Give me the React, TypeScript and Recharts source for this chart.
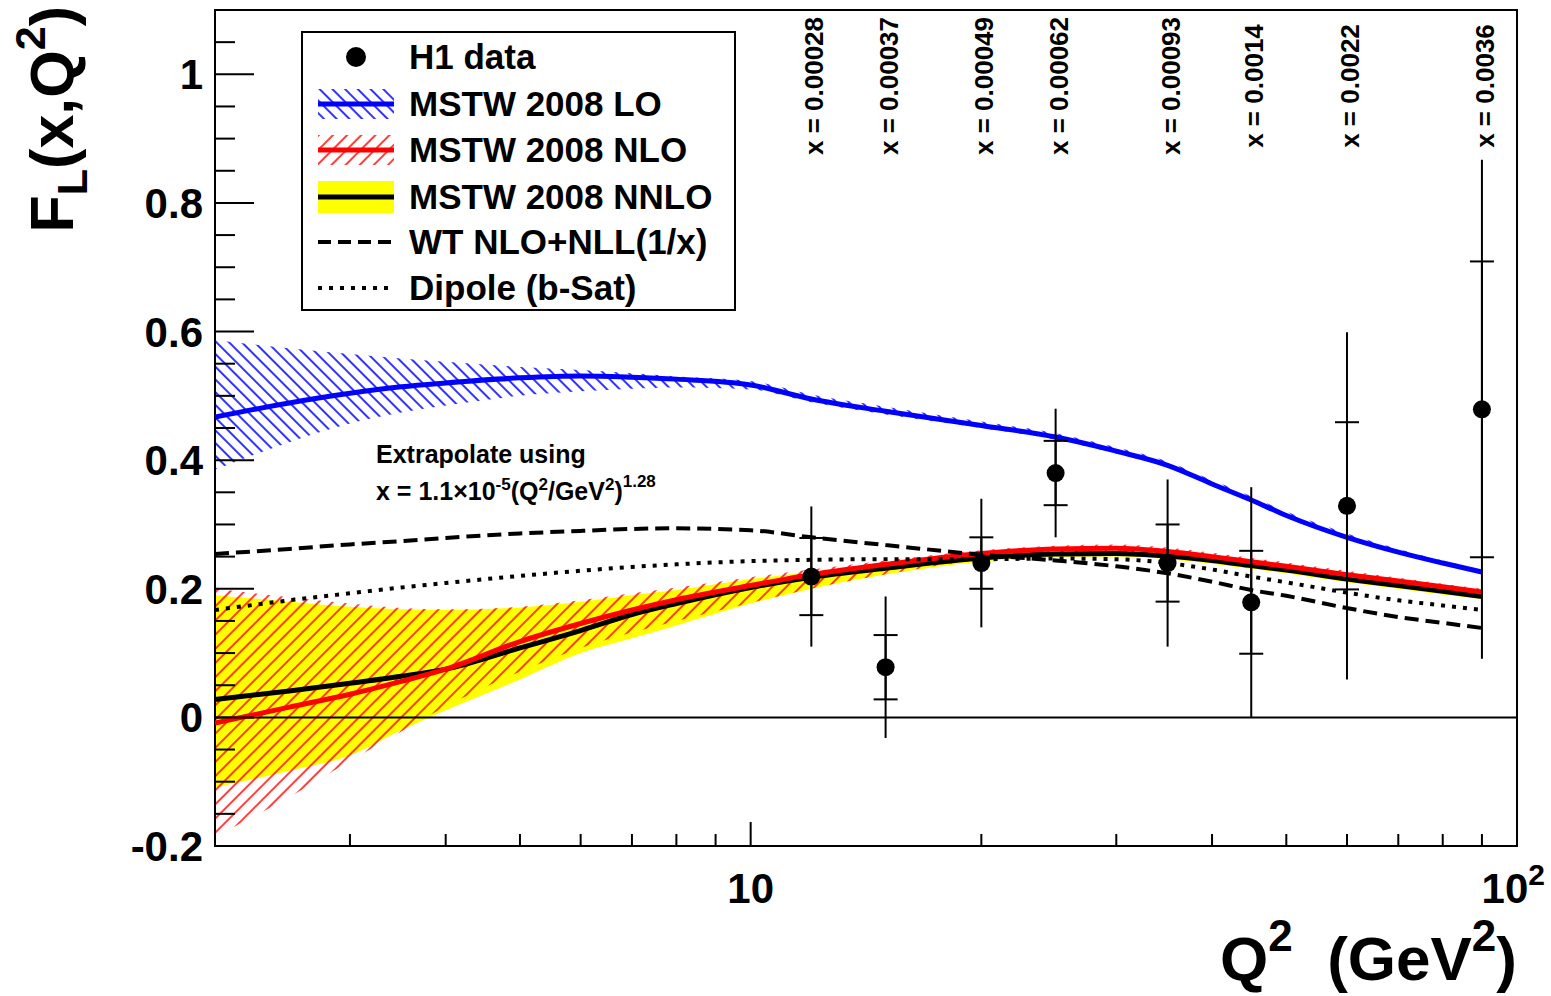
import React from "react";
import { ComposedChart, Area, Line, Scatter, ErrorBar, XAxis, YAxis, ReferenceLine, ReferenceArea } from "recharts";

const FONT = '"Liberation Sans", Arial, Helvetica, sans-serif';

// theory curves, sampled in Q^2 (GeV^2)
const q2 = [2, 2.5, 3, 3.5, 4, 5, 6, 7, 8, 10, 12, 15, 20, 25, 30, 35, 40, 45, 50, 60, 70, 80, 90];
const loCentral = [0.467, 0.489, 0.504, 0.514, 0.52, 0.528, 0.531, 0.529, 0.526, 0.517, 0.495, 0.476, 0.454, 0.436, 0.414, 0.392, 0.363, 0.338, 0.314, 0.28, 0.257, 0.24, 0.226];
const loHi = [0.587, 0.574, 0.565, 0.558, 0.553, 0.545, 0.54, 0.535, 0.53, 0.523, 0.502, 0.483, 0.46, 0.442, 0.42, 0.398, 0.369, 0.344, 0.32, 0.286, 0.262, 0.244, 0.229];
const loLo = [0.385, 0.428, 0.457, 0.474, 0.485, 0.5, 0.507, 0.511, 0.513, 0.51, 0.49, 0.471, 0.45, 0.432, 0.41, 0.389, 0.36, 0.335, 0.311, 0.277, 0.254, 0.238, 0.224];
const nloCentral = [-0.009, 0.016, 0.036, 0.056, 0.075, 0.118, 0.146, 0.167, 0.183, 0.205, 0.222, 0.238, 0.255, 0.262, 0.263, 0.258, 0.25, 0.242, 0.235, 0.222, 0.212, 0.203, 0.195];
const nloHi = [0.2, 0.187, 0.177, 0.17, 0.168, 0.172, 0.182, 0.193, 0.202, 0.218, 0.23, 0.244, 0.26, 0.267, 0.269, 0.264, 0.256, 0.248, 0.241, 0.228, 0.217, 0.208, 0.2];
const nloLo = [-0.185, -0.124, -0.068, -0.022, 0.017, 0.071, 0.108, 0.132, 0.15, 0.178, 0.2, 0.222, 0.245, 0.253, 0.256, 0.252, 0.244, 0.236, 0.229, 0.216, 0.206, 0.197, 0.19];
const nnloCentral = [0.028, 0.041, 0.053, 0.064, 0.075, 0.108, 0.135, 0.16, 0.177, 0.202, 0.218, 0.232, 0.248, 0.254, 0.255, 0.251, 0.244, 0.236, 0.229, 0.215, 0.205, 0.196, 0.188];
const nnloHi = [0.19, 0.18, 0.172, 0.168, 0.167, 0.171, 0.18, 0.19, 0.198, 0.215, 0.226, 0.238, 0.253, 0.258, 0.259, 0.255, 0.248, 0.24, 0.233, 0.219, 0.209, 0.2, 0.192];
const nnloLo = [-0.109, -0.083, -0.059, -0.02, 0.011, 0.059, 0.1, 0.123, 0.143, 0.177, 0.2, 0.222, 0.242, 0.249, 0.25, 0.246, 0.239, 0.231, 0.224, 0.21, 0.2, 0.191, 0.184];
const wtNll = [0.254, 0.262, 0.269, 0.274, 0.279, 0.286, 0.29, 0.293, 0.294, 0.291, 0.28, 0.268, 0.253, 0.244, 0.235, 0.224, 0.211, 0.198, 0.189, 0.17, 0.156, 0.147, 0.139];
const dipole = [0.167, 0.182, 0.193, 0.202, 0.209, 0.22, 0.228, 0.234, 0.238, 0.243, 0.245, 0.246, 0.246, 0.247, 0.246, 0.24, 0.23, 0.219, 0.21, 0.194, 0.182, 0.174, 0.167];

// H1 measurements
const h1Q2 = [12, 15, 20, 25, 35, 45, 60, 90];
const h1FL = [0.219, 0.078, 0.24, 0.38, 0.24, 0.179, 0.329, 0.479];
const h1Stat = [0.06, 0.05, 0.04, 0.05, 0.06, 0.08, 0.13, 0.23];
const h1Tot = [0.109, 0.11, 0.1, 0.1, 0.13, 0.179, 0.27, 0.388];
const h1X = ["0.00028", "0.00037", "0.00049", "0.00062", "0.00093", "0.0014", "0.0022", "0.0036"];

const xTicks = [3, 4, 5, 6, 7, 8, 9, 10, 20, 30, 40, 50, 60, 70, 80, 90, 100];
const yTicks = [-0.2, -0.15, -0.1, -0.05, 0, 0.05, 0.1, 0.15, 0.2, 0.25, 0.3, 0.35, 0.4, 0.45, 0.5, 0.55, 0.6, 0.65, 0.7, 0.75, 0.8, 0.85, 0.9, 0.95, 1, 1.05];

const curves = q2.map((q, i) => ({
  q2: q,
  lo: loCentral[i], loBand: [loLo[i], loHi[i]],
  nlo: nloCentral[i], nloBand: [nloLo[i], nloHi[i]],
  nnlo: nnloCentral[i], nnloBand: [nnloLo[i], nnloHi[i]],
  wt: wtNll[i], dip: dipole[i],
}));

const h1 = h1Q2.map((q, i) => ({ q2: q, fl: h1FL[i], stat: h1Stat[i], tot: h1Tot[i], xval: h1X[i] }));

const XTick = (props: any) => {
  const { x, y, payload } = props;
  const v = payload.value;
  const major = v === 10 || v === 100;
  return (
    <g>
      <line x1={x} x2={x} y1={y} y2={y - (major ? 24 : 12)} stroke="#000" strokeWidth={2} />
      {v === 10 && (
        <text x={x} y={y + 57} textAnchor="middle" fontSize={42} fontWeight="bold" fontFamily={FONT}>10</text>
      )}
      {v === 100 && (
        <text x={x + 28} y={y + 57} textAnchor="end" fontSize={42} fontWeight="bold" fontFamily={FONT}>
          10<tspan dy={-18} fontSize={30}>2</tspan>
        </text>
      )}
    </g>
  );
};

const YTick = (props: any) => {
  const { x, y, payload } = props;
  const v = payload.value;
  const major = Math.abs(v * 5 - Math.round(v * 5)) < 1e-6;
  const label = v === 0 ? "0" : v === 1 ? "1" : v.toFixed(1);
  return (
    <g>
      <line x1={x} x2={x + (major ? 39 : 20)} y1={y} y2={y} stroke="#000" strokeWidth={2} />
      {major && (
        <text x={x - 12} y={y + 15} textAnchor="end" fontSize={42} fontWeight="bold" fontFamily={FONT}>{label}</text>
      )}
    </g>
  );
};

const H1Point = (props: any) => {
  const { cx, cy, payload } = props;
  return (
    <g>
      <circle cx={cx} cy={cy} r={9} fill="#000" />
      <text
        transform={`translate(${cx + 3}, 86) rotate(-90)`}
        textAnchor="middle"
        dominantBaseline="central"
        fontSize={26}
        fontWeight="bold"
        fontFamily={FONT}
      >
        {`x = ${payload.xval}`}
      </text>
    </g>
  );
};

const Hatches = ({ suffix }: { suffix: string }) => (
  <defs>
    <pattern id={`blueHatch${suffix}`} patternUnits="userSpaceOnUse" width={9} height={9} patternTransform="rotate(-45)">
      <line x1={1} y1={0} x2={1} y2={9} stroke="#0000ff" strokeWidth={1.6} />
    </pattern>
    <pattern id={`redHatch${suffix}`} patternUnits="userSpaceOnUse" width={10} height={10} patternTransform="rotate(45)">
      <line x1={1} y1={0} x2={1} y2={10} stroke="#ff0000" strokeWidth={1.5} />
    </pattern>
  </defs>
);

const legendRows = [
  { label: "H1 data", kind: "dot" },
  { label: "MSTW 2008 LO", kind: "lo" },
  { label: "MSTW 2008 NLO", kind: "nlo" },
  { label: "MSTW 2008 NNLO", kind: "nnlo" },
  { label: "WT NLO+NLL(1/x)", kind: "wt" },
  { label: "Dipole (b-Sat)", kind: "dip" },
];
const legendY = [57, 104, 150, 197, 242, 288];

const LegendSymbol = ({ kind, cy }: { kind: string; cy: number }) => {
  const x1 = 318, x2 = 394;
  if (kind === "dot") return <circle cx={356} cy={cy} r={10} fill="#000" />;
  if (kind === "lo")
    return (
      <g>
        <rect x={x1} y={cy - 15} width={x2 - x1} height={30} fill="url(#blueHatchL)" />
        <line x1={x1} x2={x2} y1={cy} y2={cy} stroke="#0000ff" strokeWidth={5} />
      </g>
    );
  if (kind === "nlo")
    return (
      <g>
        <rect x={x1} y={cy - 15} width={x2 - x1} height={30} fill="url(#redHatchL)" />
        <line x1={x1} x2={x2} y1={cy} y2={cy} stroke="#ff0000" strokeWidth={5} />
      </g>
    );
  if (kind === "nnlo")
    return (
      <g>
        <rect x={x1} y={cy - 16} width={x2 - x1} height={32} fill="#ffff00" />
        <line x1={x1} x2={x2} y1={cy} y2={cy} stroke="#000" strokeWidth={5} />
      </g>
    );
  if (kind === "wt")
    return <line x1={x1} x2={x2} y1={cy} y2={cy} stroke="#000" strokeWidth={4} strokeDasharray="13 7" />;
  return <line x1={x1} x2={x2} y1={cy} y2={cy} stroke="#000" strokeWidth={4} strokeDasharray="4 7" />;
};

export default function App() {
  return (
    <div style={{ position: "absolute", left: 0, top: 0, width: 1551, height: 996, background: "#fff" }}>
      <ComposedChart
        width={1551}
        height={996}
        data={curves}
        margin={{ top: 10, right: 34, left: 130, bottom: 90 }}
      >
        <Hatches suffix="" />
        <XAxis
          dataKey="q2"
          type="number"
          scale="log"
          domain={[2, 100]}
          allowDataOverflow
          ticks={xTicks}
          interval={0}
          tickSize={0}
          tickMargin={0}
          tickLine={false}
          axisLine={false}
          tick={<XTick />}
          height={60}
        />
        <YAxis
          type="number"
          domain={[-0.2, 1.1]}
          allowDataOverflow
          ticks={yTicks}
          interval={0}
          tickSize={0}
          tickMargin={0}
          tickLine={false}
          axisLine={false}
          tick={<YTick />}
          width={85}
        />
        <Area dataKey="loBand" type="monotone" stroke="none" fill="url(#blueHatch)" fillOpacity={1} isAnimationActive={false} />
        <Area dataKey="nnloBand" type="monotone" stroke="none" fill="#ffff00" fillOpacity={1} isAnimationActive={false} />
        <Area dataKey="nloBand" type="monotone" stroke="none" fill="url(#redHatch)" fillOpacity={1} isAnimationActive={false} />
        <ReferenceLine y={0} stroke="#000" strokeWidth={2} />
        <Line dataKey="lo" type="monotone" stroke="#0000ff" strokeWidth={5} dot={false} activeDot={false} isAnimationActive={false} />
        <Line dataKey="nnlo" type="monotone" stroke="#000" strokeWidth={5} dot={false} activeDot={false} isAnimationActive={false} />
        <Line dataKey="nlo" type="monotone" stroke="#ff0000" strokeWidth={5} dot={false} activeDot={false} isAnimationActive={false} />
        <Line dataKey="wt" type="monotone" stroke="#000" strokeWidth={4} strokeDasharray="14 7" dot={false} activeDot={false} isAnimationActive={false} />
        <Line dataKey="dip" type="monotone" stroke="#000" strokeWidth={4} strokeDasharray="4 7" dot={false} activeDot={false} isAnimationActive={false} />
        <Scatter data={h1} dataKey="fl" fill="#000" shape={<H1Point />} isAnimationActive={false}>
          <ErrorBar dataKey="tot" direction="y" width={0} stroke="#000" strokeWidth={2} isAnimationActive={false} />
          <ErrorBar dataKey="stat" direction="y" width={12} stroke="#000" strokeWidth={2} isAnimationActive={false} />
        </Scatter>
        <ReferenceArea x1={2} x2={100} y1={-0.2} y2={1.1} fill="none" stroke="#000" strokeWidth={2} ifOverflow="visible" />
      </ComposedChart>

      <svg width={1551} height={996} style={{ position: "absolute", left: 0, top: 0, pointerEvents: "none" }}>
        <Hatches suffix="L" />
        <rect x={302} y={32} width={433} height={278} fill="#fff" stroke="#000" strokeWidth={2} />
        {legendRows.map((r, i) => (
          <g key={r.label}>
            <LegendSymbol kind={r.kind} cy={legendY[i]} />
            <text x={409} y={legendY[i] + 12} fontSize={35} fontWeight="bold" fontFamily={FONT}>{r.label}</text>
          </g>
        ))}

        <g fontFamily={FONT} fontWeight="bold" fontSize={25}>
          <text x={376} y={463}>Extrapolate using</text>
          <text x={376} y={500}>
            x = 1.1×10<tspan dy={-10} fontSize={17}>-5</tspan>
            <tspan dy={10}>(Q</tspan><tspan dy={-10} fontSize={17}>2</tspan>
            <tspan dy={10}>/GeV</tspan><tspan dy={-10} fontSize={17}>2</tspan>
            <tspan dy={10}>)</tspan><tspan dy={-13} fontSize={17}>1.28</tspan>
          </text>
        </g>

        <text transform="translate(73, 6) rotate(-90)" textAnchor="end" fontSize={61} fontWeight="bold" fontFamily={FONT}>
          F<tspan dy={14} fontSize={43}>L</tspan><tspan dy={-14}>(x,Q</tspan><tspan dy={-28} fontSize={43}>2</tspan><tspan dy={28}>)</tspan>
        </text>

        <text x={1517} y={980} textAnchor="end" fontSize={62} fontWeight="bold" fontFamily={FONT}>
          Q<tspan dy={-29} fontSize={44}>2</tspan><tspan dy={29}>{"\u00a0\u00a0(GeV"}</tspan><tspan dy={-29} fontSize={44}>2</tspan><tspan dy={29}>)</tspan>
        </text>
      </svg>
    </div>
  );
}
